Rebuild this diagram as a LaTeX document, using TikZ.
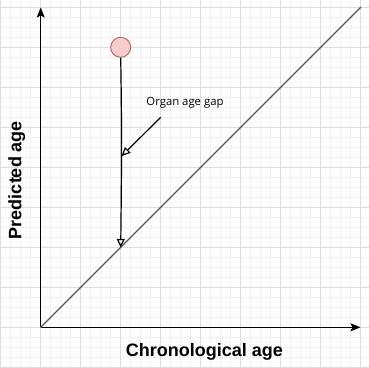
\documentclass[tikz,border=0pt]{standalone}
\usepackage{fontspec}
\setmainfont{Liberation Sans}
\newfontfamily\handfont{Open Sans}
\usetikzlibrary{arrows.meta}
\definecolor{gridminor}{HTML}{F0F0F0}
\definecolor{gridmajor}{HTML}{DDDDDD}
\definecolor{dotfill}{HTML}{F8CECC}
\definecolor{dotline}{HTML}{B85450}
\definecolor{diag}{HTML}{555555}
\tikzset{
  axisline/.style={line width=0.85, -{Stealth[length=7.5, width=6, inset=1.5]}},
  gaparrow/.style={line width=0.9, -{Triangle[open, length=6.5, width=6]}, black},
  axislabel/.style={font=\bfseries\fontsize{13.5}{15}\selectfont, inner sep=0},
  notelabel/.style={font=\handfont\fontsize{8.5}{10}\selectfont, inner sep=0},
}
\begin{document}
\begin{tikzpicture}[x=0.75pt, y=-0.75pt]
\useasboundingbox (0,0) rectangle (369,368);
\fill[white] (0,0) rectangle (369,368);
% grid
\foreach \i in {0,...,36} {
  \draw[gridminor, line width=0.5] ({0.7+10*\i},0) -- ({0.7+10*\i},368);
}
\foreach \j in {0,...,37} {
  \draw[gridminor, line width=0.5] (0,{7.3+10*\j-10}) -- (369,{7.3+10*\j-10});
}
\foreach \i in {0,...,9} {
  \draw[gridmajor, line width=0.5] ({0.7+40*\i},0) -- ({0.7+40*\i},368);
}
\foreach \j in {0,...,9} {
  \draw[gridmajor, line width=0.5] (0,{7.3+40*\j}) -- (369,{7.3+40*\j});
}
% axes
\coordinate (O) at (40.7,327.3);
\coordinate (ytip) at (40.7,7.5);
\coordinate (xtip) at (360.5,327.3);
\coordinate (dtop) at (361,7);
\draw[axisline] (O) -- (ytip);
\draw[axisline] (O) -- (xtip);
\draw[diag, line width=0.9] (O) -- (dtop);
% point
\node[circle, draw=dotline, fill=dotfill, minimum size=15pt, inner sep=0, line width=0.6] (pt) at (120.7,47.3) {};
\coordinate (onDiag) at (120.7,247.5);
\draw[gaparrow] (pt.south) .. controls (122,130) and (121.5,180) .. (onDiag);
% annotation
\node[notelabel] (note) at (185,103) {Organ age gap};
\coordinate (nstart) at (160.7,117.3);
\coordinate (nend) at (121.7,156);
\draw[gaparrow] (nstart) -- (nend);
% labels
\node[axislabel] (xlab) at (204.3,351.7) {Chronological age};
\node[axislabel, rotate=90] (ylab) at (16.7,180) {Predicted age};
\end{tikzpicture}
\end{document}
